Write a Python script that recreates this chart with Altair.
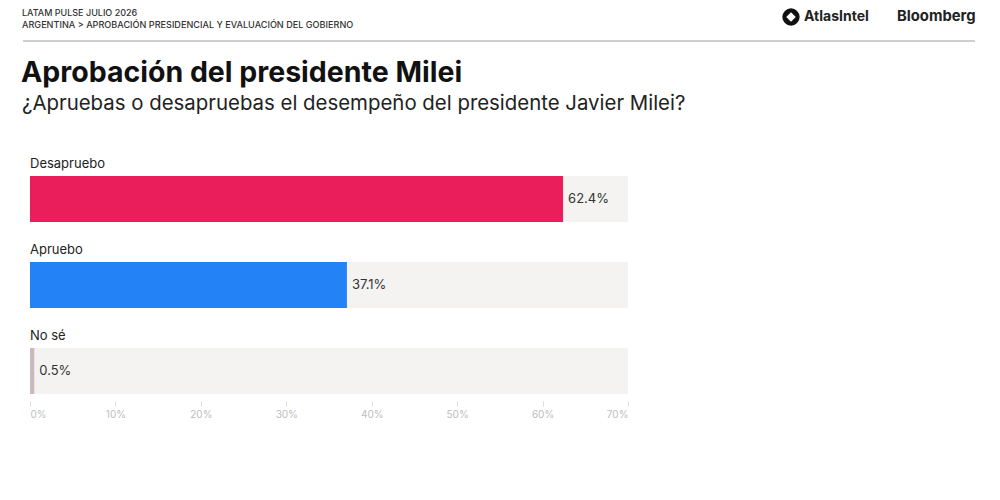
import altair as alt
import pandas as pd

categories = ["Desapruebo", "Apruebo", "No sé"]
values = [62.4, 37.1, 0.5]
colors = ["#E91E5B", "#2383F6", "#C9B9BA"]
labels = ["62.4%", "37.1%", "0.5%"]
x_ticks = [0, 10, 20, 30, 40, 50, 60, 70]
x_max = 70

header_lines = ["LATAM PULSE JULIO 2026",
                "ARGENTINA > APROBACIÓN PRESIDENCIAL Y EVALUACIÓN DEL GOBIERNO"]
title_text = "Aprobación del presidente Milei"
subtitle_text = "¿Apruebas o desapruebas el desempeño del presidente Javier Milei?"

df = pd.DataFrame({"cat": categories, "value": values, "color": colors, "label": labels})

FONT = "Inter"
# page coords -> plot coords: origin at page (30, 156)
OX, OY = 30, 156

y_enc = alt.Y("cat:N", sort=categories, axis=None,
              scale=alt.Scale(range=[0, 258], paddingInner=0, paddingOuter=0))
x_scale = alt.Scale(domain=[0, x_max], nice=False)

base = alt.Chart(df)

bg = base.mark_bar(size=46, color="#F4F3F1").encode(
    x=alt.X("xmax:Q", scale=x_scale,
            axis=alt.Axis(values=x_ticks, labelExpr="datum.value + '%'", grid=False,
                          domain=False, tickColor="#DDDDDD", tickSize=5,
                          labelColor="#BDBDBD", labelFontSize=10, labelFont=FONT,
                          labelPadding=3, title=None)),
    x2=alt.datum(0),
    y=y_enc,
).transform_calculate(xmax=str(x_max))

bars = base.mark_bar(size=46).encode(
    x=alt.X("value:Q", scale=x_scale),
    x2=alt.datum(0),
    y=y_enc,
    color=alt.Color("color:N", scale=None),
)

vals = base.mark_text(align="left", baseline="middle", dx=5, fontSize=13,
                      font=FONT, color="#333333").encode(
    x=alt.X("value:Q", scale=x_scale),
    y=y_enc,
    text="label:N",
)

cats = base.mark_text(align="left", baseline="middle", dy=-35, fontSize=13,
                      font=FONT, color="#222222").encode(
    x=alt.datum(0),
    y=y_enc,
    text="cat:N",
)

def txt(s, px, py, size, weight="normal", color="#222222", align="left", font=FONT):
    return alt.Chart(pd.DataFrame({"t": [s]})).mark_text(
        align=align, baseline="middle", fontSize=size, fontWeight=weight,
        color=color, font=font).encode(
        x=alt.value(px - OX), y=alt.value(py - OY), text="t:N")

h1 = txt(header_lines[0], 22, 13, 9, weight=500, color="#333333")
h2 = txt(header_lines[1], 22, 25, 9.1, weight=500, color="#333333")
t1 = txt(title_text, 21, 73, 28.5, weight="bold", color="#111111")
t2 = txt(subtitle_text, 22, 104, 20.4, color="#222222")
atlas = txt("AtlasIntel", 804, 17, 14, weight="bold", color="#222222")
bloom = txt("Bloomberg", 897, 17, 14.8, weight="bold", color="#222222")

logo_c = alt.Chart(pd.DataFrame({"t": [1]})).mark_point(
    shape="circle", filled=True, color="#111111", size=300, opacity=1).encode(
    x=alt.value(791 - OX), y=alt.value(17 - OY))
logo_d = alt.Chart(pd.DataFrame({"t": [1]})).mark_point(
    shape="diamond", filled=True, color="#FFFFFF", size=90, opacity=1).encode(
    x=alt.value(791 - OX), y=alt.value(17 - OY))

hline = alt.Chart(pd.DataFrame({"t": [1]})).mark_rule(color="#A0A0A0", strokeWidth=1.2).encode(
    x=alt.value(23 - OX), x2=alt.value(975 - OX), y=alt.value(41 - OY))

chart = alt.layer(bg, bars, vals, cats, h1, h2, t1, t2, atlas, bloom, logo_c, logo_d, hline).properties(
    width=598, height=245,
    autosize=alt.AutoSizeParams(type="none"),
    padding={"left": 22, "top": 148, "right": 364, "bottom": 90},
    background="#FFFFFF",
).configure_view(stroke=None)

chart.save("out.html", embed_options={"renderer": "svg", "actions": False})
